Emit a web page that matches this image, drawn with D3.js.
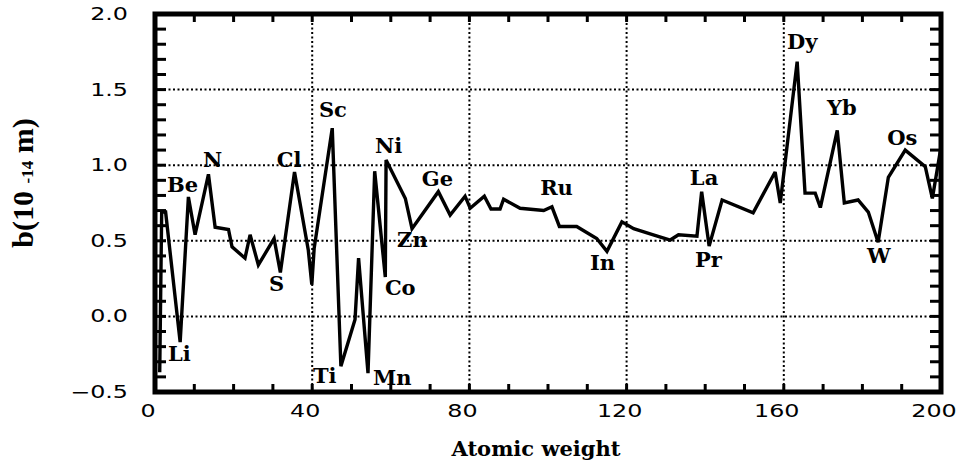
<!DOCTYPE html>
<html>
<head>
<meta charset="utf-8">
<script src="https://cdn.jsdelivr.net/npm/d3@7"></script>
<style>
  body { margin: 0; background: #fff; }
  .tick-label { font-family: "DejaVu Sans", sans-serif; font-size: 17px; fill: #000; }
  .elem { font-family: "DejaVu Serif", serif; font-weight: bold; font-size: 21px; fill: #000; }
  .axis-title { font-family: "DejaVu Serif", serif; font-weight: bold; font-size: 21px; }
</style>
</head>
<body>
<div id="chart-area"></div>
<script>

// SVG Size
const width = 965,
	height = 466;

// Data: atomic weight vs scattering length b (10^-14 m)
const atomicWeight = [1.2, 1.7, 2.7, 6.4, 8.5, 10.2, 13.6, 15.3, 18.7, 19.6,
	22.9, 24.2, 26.3, 30.3, 31.9, 35.5, 39.0, 39.9, 40.5, 45.1,
	47.3, 50.9, 51.8, 54.2, 55.9, 58.6, 58.8, 63.7, 65.4, 72.1,
	75.1, 78.9, 80.2, 83.8, 85.5, 87.8, 88.7, 92.9, 98.9, 101.0,
	102.9, 107.3, 112.4, 115.0, 118.8, 121.8, 126.8, 131.1, 133.2, 137.9,
	139.1, 141.0, 144.3, 152.2, 157.8, 159.1, 163.4, 165.4, 168.0, 169.3,
	173.6, 175.4, 178.9, 181.5, 184.0, 186.6, 190.9, 196.0, 197.8, 200.0];
const scatteringLength = [-0.37, 0.69, 0.69, -0.17, 0.79, 0.54, 0.94, 0.59, 0.575, 0.46,
	0.385, 0.54, 0.34, 0.515, 0.29, 0.955, 0.44, 0.21, 0.45, 1.245,
	-0.33, -0.02, 0.385, -0.375, 0.96, 0.26, 1.035, 0.78, 0.58, 0.825,
	0.67, 0.795, 0.715, 0.795, 0.71, 0.71, 0.775, 0.715, 0.70, 0.725,
	0.595, 0.595, 0.515, 0.43, 0.625, 0.58, 0.54, 0.505, 0.54, 0.53,
	0.825, 0.465, 0.77, 0.685, 0.955, 0.75, 1.685, 0.815, 0.815, 0.72,
	1.23, 0.75, 0.77, 0.69, 0.49, 0.92, 1.10, 0.99, 0.78, 1.12];

// Element annotations (text start, baseline) in data units
const labelNames = ["Li", "Be", "N", "S", "Cl", "Sc", "Ti", "Mn", "Ni", "Co",
	"Zn", "Ge", "Ru", "In", "La", "Pr", "Dy", "Yb", "W", "Os"];
const labelWeight = [3.3, 3.05, 12.2, 29.0, 31.0, 41.7, 40.2, 55.5, 56.0, 58.5,
	61.6, 67.9, 98.0, 110.7, 136.1, 137.4, 160.8, 171.0, 181.2, 186.3];
const labelB = [-0.295, 0.823, 0.988, 0.168, 0.988, 1.319, -0.44, -0.454, 1.081, 0.142,
	0.459, 0.862, 0.803, 0.307, 0.869, 0.327, 1.768, 1.332, 0.353, 1.134];

// Axis ticks
const xMajor = [0, 40, 80, 120, 160, 200];
const yMajor = [-0.5, 0.0, 0.5, 1.0, 1.5, 2.0];
const xGrid = [40, 80, 120, 160];
const yGrid = [0.0, 0.5, 1.0, 1.5];
const xMinor = [10, 20, 30, 40, 50, 60, 70, 80, 90, 100, 110, 120, 130, 140, 150, 160, 170, 180, 190];
const yMinor = [-0.4, -0.3, -0.2, -0.1, 0.0, 0.1, 0.2, 0.3, 0.4, 0.5, 0.6, 0.7, 0.8, 0.9,
	1.0, 1.1, 1.2, 1.3, 1.4, 1.5, 1.6, 1.7, 1.8, 1.9];

const data = atomicWeight.map((w, i) => ({ w: w, b: scatteringLength[i] }));
const labels = labelNames.map((n, i) => ({ name: n, w: labelWeight[i], b: labelB[i] }));

const svg = d3.select("#chart-area")
	.append("svg")
	.attr("width", width)
	.attr("height", height);

const x = d3.scaleLinear().domain([0, 200]).range([155, 941]);
const y = d3.scaleLinear().domain([-0.5, 2.0]).range([392, 14]);

svg.append("clipPath").attr("id", "plot-clip")
	.append("rect")
	.attr("x", x(0)).attr("y", y(2))
	.attr("width", x(200) - x(0)).attr("height", y(-0.5) - y(2));

// Dotted grid
const grid = svg.append("g")
	.attr("stroke", "#000")
	.attr("stroke-width", 2)
	.attr("stroke-dasharray", "2,2.5");
grid.selectAll("line.vgrid").data(xGrid).enter()
	.append("line").attr("class", "vgrid")
	.attr("x1", d => x(d)).attr("x2", d => x(d))
	.attr("y1", y(2)).attr("y2", y(-0.5));
grid.selectAll("line.hgrid").data(yGrid).enter()
	.append("line").attr("class", "hgrid")
	.attr("x1", x(0)).attr("x2", x(200))
	.attr("y1", d => y(d)).attr("y2", d => y(d));

// Minor ticks on all four sides, pointing inward
const yTickLen = 11, xTickLen = 8;
const ticks = svg.append("g")
	.attr("stroke", "#000")
	.attr("stroke-width", 3);
ticks.selectAll("line.ytl").data(yMinor).enter()
	.append("line").attr("class", "ytl")
	.attr("x1", x(0)).attr("x2", x(0) + yTickLen)
	.attr("y1", d => y(d)).attr("y2", d => y(d));
ticks.selectAll("line.ytr").data(yMinor).enter()
	.append("line").attr("class", "ytr")
	.attr("x1", x(200)).attr("x2", x(200) - yTickLen)
	.attr("y1", d => y(d)).attr("y2", d => y(d));
ticks.selectAll("line.xtb").data(xMinor).enter()
	.append("line").attr("class", "xtb")
	.attr("x1", d => x(d)).attr("x2", d => x(d))
	.attr("y1", y(-0.5)).attr("y2", y(-0.5) - xTickLen);
ticks.selectAll("line.xtt").data(xMinor).enter()
	.append("line").attr("class", "xtt")
	.attr("x1", d => x(d)).attr("x2", d => x(d))
	.attr("y1", y(2)).attr("y2", y(2) + xTickLen);

// Data line
const line = d3.line().x(d => x(d.w)).y(d => y(d.b));
svg.append("path")
	.datum(data)
	.attr("clip-path", "url(#plot-clip)")
	.attr("d", line)
	.attr("fill", "none")
	.attr("stroke", "#000")
	.attr("stroke-width", 3.4)
	.attr("stroke-linejoin", "miter")
	.attr("stroke-miterlimit", 3);

// Frame
svg.append("rect")
	.attr("x", x(0)).attr("y", y(2))
	.attr("width", x(200) - x(0)).attr("height", y(-0.5) - y(2))
	.attr("fill", "none")
	.attr("stroke", "#000")
	.attr("stroke-width", 5);

// Tick labels (the original is stretched sideways)
const stretch = 1.4;
svg.selectAll("text.ylab").data(yMajor).enter()
	.append("text").attr("class", "tick-label ylab")
	.attr("text-anchor", "end")
	.attr("transform", d => "translate(128," + (y(d) + 6) + ") scale(" + stretch + ",1)")
	.text(d => d3.format(".1f")(d));
svg.selectAll("text.xlab").data(xMajor).enter()
	.append("text").attr("class", "tick-label xlab")
	.attr("text-anchor", "middle")
	.attr("transform", d => "translate(" + (x(d) - 7) + ",417) scale(" + stretch + ",1)")
	.text(d => d);

// Element annotations
svg.selectAll("text.elem").data(labels).enter()
	.append("text").attr("class", "elem")
	.attr("x", d => x(d.w))
	.attr("y", d => y(d.b))
	.text(d => d.name);

// Axis titles
svg.append("text")
	.attr("class", "axis-title")
	.attr("text-anchor", "middle")
	.attr("x", 536)
	.attr("y", 456)
	.text("Atomic weight");

const yTitle = svg.append("text")
	.attr("text-anchor", "middle")
	.attr("transform", "translate(33,183) rotate(-90)")
	.style("font-family", "'Liberation Serif', serif")
	.style("font-weight", "bold")
	.style("font-size", "30px");
yTitle.append("tspan").text("b(10 ");
yTitle.append("tspan").style("font-size", "17px").text("-14");
yTitle.append("tspan").text(" m)");

</script>
</body>
</html>
